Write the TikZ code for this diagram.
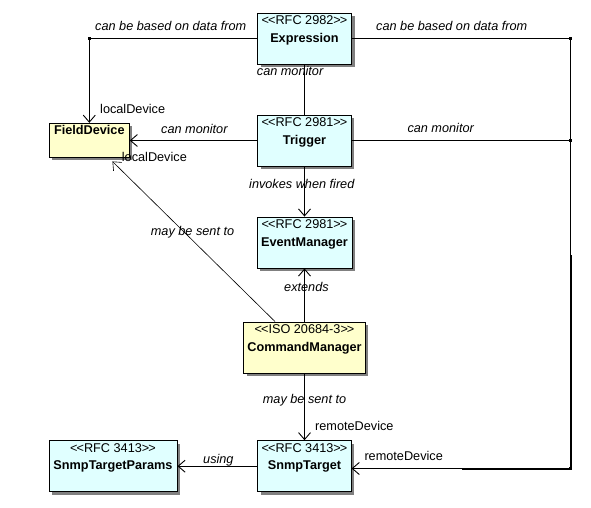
\documentclass[tikz,border=0pt]{standalone}
\usepackage{fontspec}
\setmainfont{Liberation Sans}
\usetikzlibrary{arrows.meta, shadows, calc}

\definecolor{cyanbox}{RGB}{224,255,255}
\definecolor{yellowbox}{RGB}{255,255,204}
\newcommand{\stereo}[1]{<\kern-1pt<#1>\kern-1pt>}

\begin{document}
\begin{tikzpicture}[x=1pt,y=-1pt, font=\fontsize{12.7}{15}\selectfont,
    classbox/.style={draw, line width=0.9pt, inner sep=0pt, minimum height=51pt,
      drop shadow={shadow xshift=3pt, shadow yshift=-3pt, fill=black!50, opacity=1}},
    stype/.style={anchor=base, inner sep=0pt},
    cname/.style={anchor=base, inner sep=0pt, font=\fontsize{12.7}{15}\selectfont\bfseries},
    rel/.style={anchor=base west, inner sep=0pt, font=\fontsize{12.7}{15}\selectfont\itshape},
    role/.style={anchor=base west, inner sep=0pt},
    line/.style={line width=0.9pt},
    assoc/.style={line width=0.9pt, -{Straight Barb[length=7pt,width=12pt]}},
    junction/.style={fill=black, inner sep=0pt, minimum size=3pt}]
        \useasboundingbox (0,0) rectangle (591,508);

        % classes
        \node[classbox, fill=cyanbox, minimum width=94pt] (expression) at (304.5,38.5) {};
        \node[stype] at ($(expression.north)+(0,12)$) {\stereo{RFC 2982}};
        \node[cname] at ($(expression.north)+(0,29.5)$) {Expression};

        \node[classbox, fill=cyanbox, minimum width=93.5pt] (trigger) at (304.5,140.5) {};
        \node[stype] at ($(trigger.north)+(0,12)$) {\stereo{RFC 2981}};
        \node[cname] at ($(trigger.north)+(0,29.5)$) {Trigger};

        \node[classbox, fill=yellowbox, minimum width=80pt, minimum height=34pt] (fielddevice) at (89.3,140.3) {};
        \node[cname] at ($(fielddevice.north)+(0,11.7)$) {FieldDevice};

        \node[classbox, fill=cyanbox, minimum width=95pt] (eventmanager) at (304.5,242.5) {};
        \node[stype] at ($(eventmanager.north)+(0,12)$) {\stereo{RFC 2981}};
        \node[cname] at ($(eventmanager.north)+(0,29.5)$) {EventManager};

        \node[classbox, fill=yellowbox, minimum width=121.6pt] (commandmanager) at (304.5,347.5) {};
        \node[stype] at ($(commandmanager.north)+(0,12)$) {\stereo{ISO 20684-3}};
        \node[cname] at ($(commandmanager.north)+(0,29.5)$) {CommandManager};

        \node[classbox, fill=cyanbox, minimum width=93.3pt] (snmptarget) at (304.5,466.2) {};
        \node[stype] at ($(snmptarget.north)+(0,12)$) {\stereo{RFC 3413}};
        \node[cname] at ($(snmptarget.north)+(0,29.5)$) {SnmpTarget};

        \node[classbox, fill=cyanbox, minimum width=128pt] (snmptargetparams) at (113,466.2) {};
        \node[stype] at ($(snmptargetparams.north)+(0,12)$) {\stereo{RFC 3413}};
        \node[cname] at ($(snmptargetparams.north)+(0,29.5)$) {SnmpTargetParams};

        % bends on the right
        \coordinate (rtop) at (570.7,38.5);
        \coordinate (rmid) at (570.7,140.5);
        \coordinate (rbot) at (570.7,468.5);
        \coordinate (rjoin) at (461.7,469.3);

        % connectors
        \draw[assoc] (expression.west) -| (fielddevice.north);
        \draw[line] (trigger.north) -- (expression.south);
        \draw[assoc] (trigger.west) -- (trigger.west -| fielddevice.east);
        \draw[assoc] (trigger.south) -- (eventmanager.north);
        \draw[assoc] (commandmanager.north) -- (eventmanager.south);
        \draw[assoc] (commandmanager.south) -- (snmptarget.north);
        \draw[assoc] (snmptarget.west) -- (snmptargetparams.east);
        \draw[assoc, line width=0.6pt] ([xshift=-29.5pt]commandmanager.north) -- ($(fielddevice.south east)+(-17.3,3.7)$);
        \draw[assoc] (expression.east) -- (rtop) -- (rbot) -- (rbot -| snmptarget.east);
        \draw[line] (trigger.east) -- (rmid) -- (570.7,255) -- (571.6,255) -- (571.6,469.3) -- (rjoin);

        \node[junction] at (expression.west -| fielddevice.north) {};
        \node[junction] at (rtop) {};
        \node[junction] at (rmid) {};
        \node[junction] at (rbot) {};

        % labels
        \node[rel] at (95,30.5) {can be based on data from};
        \node[rel] at (376,30.5) {can be based on data from};
        \node[rel] at (256.7,76) {can monitor};
        \node[role] at (100,113.3) {localDevice};
        \node[rel] at (161,133.3) {can monitor};
        \node[role] at (121.7,161.7) {localDevice};
        \node[rel] at (407.3,132.3) {can monitor};
        \node[rel] at (249,188.3) {invokes when fired};
        \node[rel] at (150.7,235) {may be sent to};
        \node[rel] at (284,291) {extends};
        \node[rel] at (262.7,403.3) {may be sent to};
        \node[role] at (315,430.7) {remoteDevice};
        \node[role] at (364.3,460) {remoteDevice};
        \node[rel] at (203,463.3) {using};
    \end{tikzpicture}
\end{document}
